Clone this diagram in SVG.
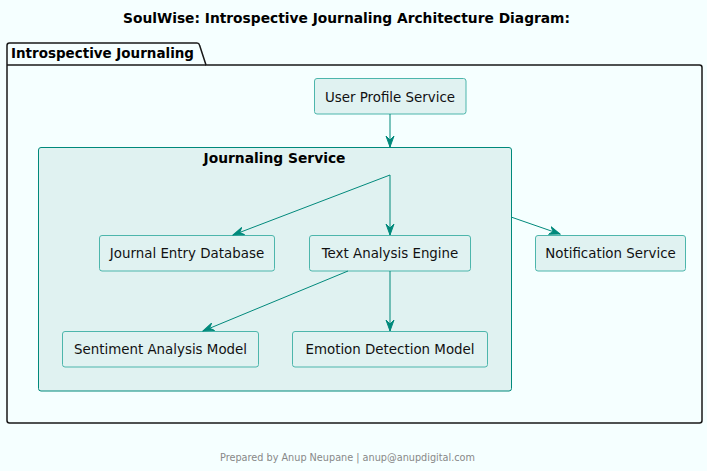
<svg xmlns="http://www.w3.org/2000/svg" width="707" height="471" viewBox="0 0 707 471">
<defs>
<style>
text{font-family:"DejaVu Sans","Liberation Sans",sans-serif;fill:#000}
.node rect{fill:#E0F2F1;stroke:#4DB6AC;stroke-width:1}
.node text{font-size:13.4px;text-anchor:middle;fill:#111}
.conn line{stroke:#00897B;stroke-width:1}
.title{font-size:14px;font-weight:bold}
.footer{font-size:10px;fill:#888888;text-anchor:middle}
</style>
<marker id="arr" viewBox="0 0 12 10" refX="11" refY="5" markerWidth="12" markerHeight="10" markerUnits="userSpaceOnUse" orient="auto">
<polygon points="0,1 11,5 0,9 4,5" fill="#00897B" stroke="#00897B" stroke-width="1"/>
</marker>
</defs>
<rect x="0" y="0" width="707" height="471" fill="#F5FFFF"/>
<text class="title" x="123" y="23" textLength="447" lengthAdjust="spacingAndGlyphs">SoulWise: Introspective Journaling Architecture Diagram:</text>
<g id="package">
<path d="M9.5,43 L197,43 Q199,43 199.5,45 L206,65 L699.5,65 Q702,65 702,67.5 L702,420.5 Q702,423 699.5,423 L9.5,423 Q7,423 7,420.5 L7,45.5 Q7,43 9.5,43 Z" fill="#F5FFFF" stroke="#181818" stroke-width="1.5"/>
<line x1="7" y1="65" x2="206" y2="65" stroke="#181818" stroke-width="1.5"/>
<text x="11" y="58" font-size="14" font-weight="bold" textLength="183" lengthAdjust="spacingAndGlyphs">Introspective Journaling</text>
</g>
<g id="journaling-service">
<rect x="38.5" y="147.5" width="473" height="243.5" rx="2.5" fill="#E0F2F1" stroke="#00897B" stroke-width="1"/>
<text x="274.5" y="163" font-size="14" font-weight="bold" text-anchor="middle" textLength="142" lengthAdjust="spacingAndGlyphs">Journaling Service</text>
</g>
<g id="user-profile-service" class="node">
<rect x="314.5" y="78.5" width="151.5" height="35.5" rx="2.5"/>
<text x="390" y="101.5">User Profile Service</text>
</g>
<g id="journal-entry-database" class="node">
<rect x="99.5" y="235.5" width="175" height="35.5" rx="2.5"/>
<text x="187" y="257.5">Journal Entry Database</text>
</g>
<g id="text-analysis-engine" class="node">
<rect x="309.5" y="235.5" width="161" height="35.5" rx="2.5"/>
<text x="390" y="257.5">Text Analysis Engine</text>
</g>
<g id="sentiment-analysis-model" class="node">
<rect x="62.5" y="331.5" width="196" height="35.5" rx="2.5"/>
<text x="160.5" y="353.5">Sentiment Analysis Model</text>
</g>
<g id="emotion-detection-model" class="node">
<rect x="292.5" y="331.5" width="195" height="35.5" rx="2.5"/>
<text x="390" y="353.5">Emotion Detection Model</text>
</g>
<g id="notification-service" class="node">
<rect x="535.5" y="235.5" width="150" height="35.5" rx="2.5"/>
<text x="610.5" y="257.5">Notification Service</text>
</g>
<g id="connectors" class="conn">
<line x1="390" y1="114" x2="390" y2="147" marker-end="url(#arr)"/>
<line x1="390" y1="175" x2="390" y2="235" marker-end="url(#arr)"/>
<line x1="390" y1="175" x2="233" y2="235" marker-end="url(#arr)"/>
<line x1="348" y1="271" x2="203" y2="331" marker-end="url(#arr)"/>
<line x1="390" y1="271" x2="390" y2="331" marker-end="url(#arr)"/>
<line x1="511" y1="217" x2="560" y2="234" marker-end="url(#arr)"/>
</g>
<text class="footer" x="347.5" y="461" textLength="255" lengthAdjust="spacingAndGlyphs">Prepared by Anup Neupane | anup@anupdigital.com</text>
</svg>
